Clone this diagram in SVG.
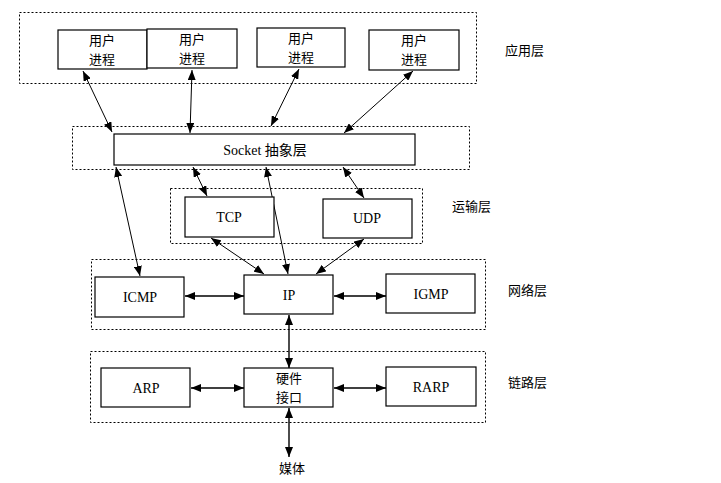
<svg xmlns="http://www.w3.org/2000/svg" width="721" height="483" viewBox="0 0 721 483">
<defs>
<marker id="ah" viewBox="0 0 10 8" refX="10" refY="4" markerWidth="10" markerHeight="8" markerUnits="userSpaceOnUse" orient="auto-start-reverse">
<path d="M0,0 L10,4 L0,8 z" fill="#000"/>
</marker>
</defs>
<style>
.layer{fill:none;stroke:#000;stroke-width:1;stroke-dasharray:2,2}
.box{fill:#fff;stroke:#000;stroke-width:1.2}
.cn{font-family:"Noto Sans CJK SC","Noto Sans",sans-serif;font-size:13px;fill:#000;text-anchor:middle}
.en{font-family:"Liberation Serif",serif;font-size:14px;fill:#000;text-anchor:middle}
.lbl{font-family:"Noto Sans CJK SC",sans-serif;font-size:13px;fill:#000}
.c{stroke:#000;stroke-width:1;fill:none;marker-start:url(#ah);marker-end:url(#ah)}
.h{stroke-width:1.4}
</style>
<rect width="721" height="483" fill="#fff"/>
<g id="layers">
<rect class="layer" x="19.5" y="12.5" width="457" height="71"/>
<rect class="layer" x="72.5" y="126.5" width="397" height="43"/>
<rect class="layer" x="170.5" y="188.5" width="252" height="55"/>
<rect class="layer" x="91.5" y="259.5" width="394" height="70"/>
<rect class="layer" x="90.5" y="351.5" width="395" height="71"/>
</g>
<g id="layer-labels">
<text class="lbl" x="505" y="55">应用层</text>
<text class="lbl" x="452" y="211">运输层</text>
<text class="lbl" x="508" y="295">网络层</text>
<text class="lbl" x="508" y="387">链路层</text>
</g>
<g id="connectors">
<line class="c" x1="83" y1="71" x2="112" y2="132"/>
<line class="c" x1="192" y1="70" x2="190" y2="133"/>
<line class="c" x1="299" y1="69" x2="271" y2="126"/>
<line class="c" x1="413" y1="71" x2="344" y2="133"/>
<line class="c" x1="116" y1="167" x2="140" y2="276"/>
<line class="c" x1="193" y1="167" x2="207" y2="196"/>
<line class="c" x1="266" y1="167" x2="288" y2="274"/>
<line class="c" x1="343" y1="167" x2="364" y2="198"/>
<line class="c" x1="211" y1="238" x2="264" y2="274"/>
<line class="c" x1="364" y1="239" x2="316" y2="274"/>
<line class="c h" x1="185" y1="296" x2="244" y2="296"/>
<line class="c h" x1="334" y1="296" x2="386" y2="296"/>
<line class="c h" x1="289" y1="315" x2="289" y2="368"/>
<line class="c h" x1="191" y1="388" x2="244" y2="388"/>
<line class="c h" x1="334" y1="388" x2="386" y2="388"/>
<line class="c h" x1="289" y1="408" x2="289" y2="457"/>
</g>
<g id="user1"><rect class="box" x="58" y="30" width="89" height="39"/><text class="cn" x="102" y="45">用户</text><text class="cn" x="102" y="64">进程</text></g>
<g id="user2"><rect class="box" x="147" y="29" width="90" height="39"/><text class="cn" x="192" y="44">用户</text><text class="cn" x="192" y="63">进程</text></g>
<g id="user3"><rect class="box" x="257" y="28" width="88" height="39"/><text class="cn" x="301" y="43">用户</text><text class="cn" x="301" y="62">进程</text></g>
<g id="user4"><rect class="box" x="369" y="30" width="90" height="40"/><text class="cn" x="414" y="45">用户</text><text class="cn" x="414" y="64">进程</text></g>
<g id="socket"><rect class="box" x="114" y="134" width="301" height="31"/><text x="265" y="155" style="font-family:'Liberation Serif',serif;font-size:14px;text-anchor:middle">Socket <tspan style="font-family:'Noto Sans CJK SC',sans-serif">抽象层</tspan></text></g>
<g id="tcp"><rect class="box" x="185" y="197" width="89" height="40"/><text class="en" x="229" y="222">TCP</text></g>
<g id="udp"><rect class="box" x="323" y="199" width="89" height="39"/><text class="en" x="367" y="223">UDP</text></g>
<g id="icmp"><rect class="box" x="95" y="277" width="89" height="40"/><text class="en" x="140" y="302">ICMP</text></g>
<g id="ip"><rect class="box" x="244" y="275" width="89" height="39"/><text class="en" x="289" y="300">IP</text></g>
<g id="igmp"><rect class="box" x="386" y="274" width="89" height="39"/><text class="en" x="431" y="299">IGMP</text></g>
<g id="arp"><rect class="box" x="101" y="368" width="89" height="39"/><text class="en" x="146" y="393">ARP</text></g>
<g id="hw"><rect class="box" x="244" y="368" width="89" height="39"/><text class="cn" x="289" y="383">硬件</text><text class="cn" x="289" y="402">接口</text></g>
<g id="rarp"><rect class="box" x="386" y="367" width="90" height="39"/><text class="en" x="431" y="392">RARP</text></g>
<g id="media"><text class="cn" x="292" y="473">媒体</text></g>
</svg>
